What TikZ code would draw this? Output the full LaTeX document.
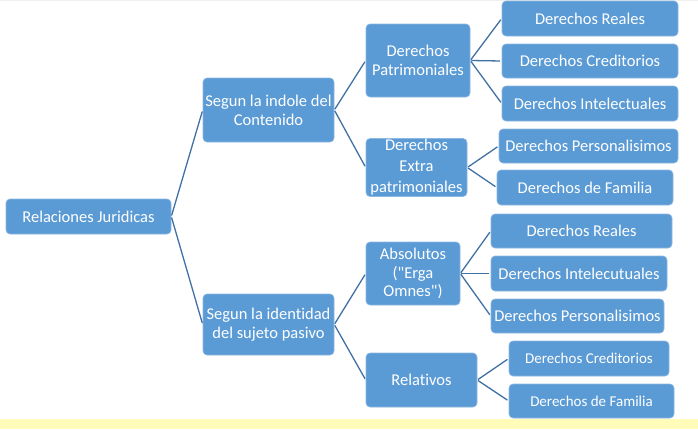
\documentclass[tikz,border=0pt]{standalone}
\usepackage{fontspec}
\setmainfont{Carlito}[Ligatures={NoCommon,TeXOff}]
\definecolor{boxfill}{RGB}{91,155,213}
\definecolor{boxline}{RGB}{140,183,226}
\definecolor{linkcol}{RGB}{65,113,164}
\definecolor{band}{RGB}{255,252,185}
\tikzset{
  box/.style={draw=boxline, line width=0.6pt, fill=boxfill, rounded corners=4pt,
    text=white, align=center, inner sep=0pt,
    font=\fontsize{16.5}{18.7}\selectfont},
  smallbox/.style={box, font=\fontsize{15}{17}\selectfont},
  link/.style={draw=linkcol, line width=1.3pt, shorten <=1pt, shorten >=1.5pt}
}
\begin{document}
\begin{tikzpicture}[x=1pt,y=-1pt]
\useasboundingbox (0,0) rectangle (698,429);
\fill[band] (0,419) rectangle (698,429);
\draw[gray!12, line width=1pt] (0,0.5) -- (698,0.5);
% nodes
\node[box, minimum width=165, minimum height=35] (root) at (88.5,216.5) {Relaciones Juridicas};
\node[box, minimum width=131, minimum height=64] (s1) at (268.5,110) {Segun la indole del\\Contenido};
\node[box, minimum width=131, minimum height=61] (s2) at (268.5,324.5) {Segun la identidad\\del sujeto pasivo};
\node[box, minimum width=104, minimum height=73] (p1) at (418,60.5) {Derechos\\Patrimoniales};
\node[box, minimum width=101, minimum height=58, font=\fontsize{16.5}{21}\selectfont] (p2) at (416.5,167.5) {Derechos\\Extra\\patrimoniales};
\node[box, minimum width=176, minimum height=35] (l1) at (590,18.5) {Derechos Reales};
\node[box, minimum width=176, minimum height=34] (l2) at (590,61) {Derechos Creditorios};
\node[box, minimum width=176, minimum height=35] (l3) at (590,103.5) {Derechos Intelectuales};
\node[box, minimum width=179, minimum height=34] (l4) at (588.5,146) {Derechos Personalisimos};
\node[box, minimum width=176, minimum height=35] (l5) at (585,187.5) {Derechos de Familia};
\node[box, minimum width=94, minimum height=63] (a) at (413,273.5) {Absolutos\\("Erga\\Omnes")};
\node[box, minimum width=111, minimum height=54] (r) at (421.5,380) {Relativos};
\node[box, minimum width=181, minimum height=34] (m1) at (581.5,231) {Derechos Reales};
\node[box, minimum width=176, minimum height=35] (m2) at (579,273.5) {Derechos Intelecutuales};
\node[box, minimum width=173, minimum height=34] (m3) at (577.5,316) {Derechos Personalisimos};
\node[smallbox, minimum width=160, minimum height=35] (m4) at (589,358.5) {Derechos Creditorios};
\node[smallbox, minimum width=165, minimum height=34] (m5) at (591.5,401) {Derechos de Familia};
% connectors
\draw[link] (root.east) -- (s1.west);
\draw[link] (root.east) -- (s2.west);
\draw[link] (s1.east) -- (p1.west);
\draw[link] (s1.east) -- (p2.west);
\draw[link] (s2.east) -- (a.west);
\draw[link] (s2.east) -- (r.west);
\draw[link] (p1.east) -- (l1.west);
\draw[link] (p1.east) -- (l2.west);
\draw[link] (p1.east) -- (l3.west);
\draw[link] (p2.east) -- (l4.west);
\draw[link] (p2.east) -- (l5.west);
\draw[link] (a.east) -- (m1.west);
\draw[link] (a.east) -- (m2.west);
\draw[link] (a.east) -- (m3.west);
\draw[link] (r.east) -- (m4.west);
\draw[link] (r.east) -- (m5.west);
\end{tikzpicture}
\end{document}
